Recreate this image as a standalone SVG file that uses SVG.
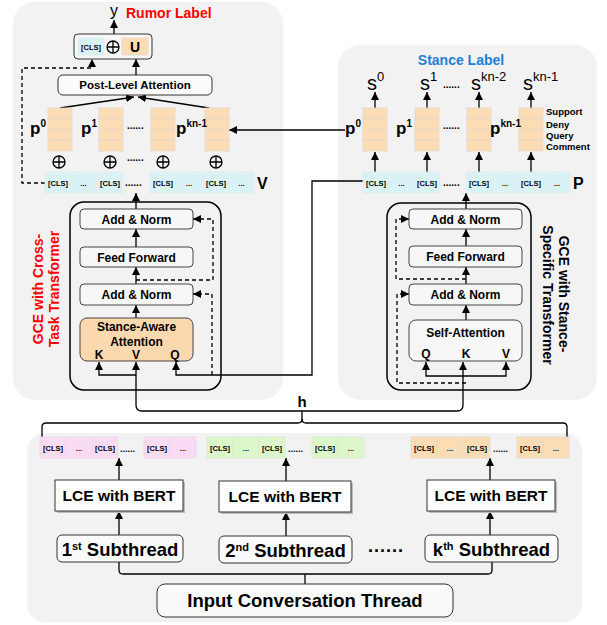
<svg xmlns="http://www.w3.org/2000/svg" xmlns:xlink="http://www.w3.org/1999/xlink" width="607" height="625" viewBox="0 0 607 625">
<style>
.f{font-family:"Liberation Sans",Arial,Helvetica,sans-serif;font-weight:bold;fill:#000}
.n{font-family:"Liberation Sans",Arial,Helvetica,sans-serif;font-weight:normal;fill:#000}
.c{text-anchor:middle}
.cls{font-size:7.5px;text-anchor:middle}
.panel{fill:#f2f2f2}
.ib{fill:#f7f7f7;stroke:#444;stroke-width:1}
.ln{fill:none;stroke:#000;stroke-width:1.3}
.dash{stroke-dasharray:4,3}
.cy{fill:url(#dots);stroke:#e4ecee;stroke-width:0.8}
.or{fill:#fcdcb5;stroke:#e4d6c8;stroke-width:0.8}
.pk{fill:#fadbf6;stroke:#ead8e8;stroke-width:0.8}
.gr{fill:#dcf7c9;stroke:#dbe8d2;stroke-width:0.8}
</style>
<defs>
<marker id="ah" viewBox="0 0 10 10" refX="10" refY="5" markerWidth="8" markerHeight="8" markerUnits="userSpaceOnUse" orient="auto-start-reverse"><path d="M0,0L10,5L0,10z" fill="#000"/></marker>
<pattern id="dots" width="3" height="3" patternUnits="userSpaceOnUse"><rect width="3" height="3" fill="#dcf4f7"/><circle cx="1" cy="1" r="0.5" fill="#bfe4ea"/></pattern>
<g id="col"><rect class="or" x="0" y="0" width="24" height="10.75"/><rect class="or" x="0" y="10.75" width="24" height="10.75"/><rect class="or" x="0" y="21.5" width="24" height="10.75"/><rect class="or" x="0" y="32.25" width="24" height="10.75"/></g>
<g id="oplus"><circle r="6" fill="none" stroke="#000" stroke-width="1.3"/><path d="M-6,0H6M0,-6V6" stroke="#000" stroke-width="1.3"/></g>
</defs>

<!-- panels -->
<rect class="panel" x="13" y="2" width="270" height="398" rx="22"/>
<rect class="panel" x="338" y="45" width="259" height="355" rx="22"/>
<rect class="panel" x="27" y="433" width="555" height="189" rx="18"/>

<!-- connectors -->
<g id="connectors">
<path class="ln" d="M114,34V20" marker-end="url(#ah)"/>
<path class="ln" d="M136,75V59" marker-end="url(#ah)"/>
<path class="ln dash" d="M45,183H22V68H92V59" marker-end="url(#ah)"/>
<path class="ln" d="M60,108L134,97" marker-end="url(#ah)"/>
<path class="ln" d="M209,108L138,97" marker-end="url(#ah)"/>
<path class="ln" d="M345,130H229" marker-end="url(#ah)"/>
<!-- left transformer -->
<path class="ln" d="M136,318V305" marker-end="url(#ah)"/>
<path class="ln" d="M136,284V267" marker-end="url(#ah)"/>
<path class="ln" d="M136,247V229" marker-end="url(#ah)"/>
<path class="ln" d="M136,209V193" marker-end="url(#ah)"/>
<path class="ln dash" d="M136,280H213V219H193" marker-end="url(#ah)"/>
<path class="ln dash" d="M212,375V294H193" marker-end="url(#ah)"/>
<path class="ln" d="M363,181H312V375H176V362" marker-end="url(#ah)"/>
<path class="ln" d="M136,375H99V362" marker-end="url(#ah)"/>
<path class="ln" d="M136,362V405Q136,411 142,411H457Q463,411 463,405V362" marker-start="url(#ah)" marker-end="url(#ah)"/>
<!-- right transformer -->
<path class="ln" d="M466,320V305" marker-end="url(#ah)"/>
<path class="ln" d="M466,284V267" marker-end="url(#ah)"/>
<path class="ln" d="M466,246V229" marker-end="url(#ah)"/>
<path class="ln" d="M466,209V193" marker-end="url(#ah)"/>
<path class="ln dash" d="M466,279H396V219H409" marker-end="url(#ah)"/>
<path class="ln dash" d="M466,383H397V294H409" marker-end="url(#ah)"/>
<path class="ln" d="M426,362V376H506V362" marker-start="url(#ah)" marker-end="url(#ah)"/>
<!-- stance columns -->
<path class="ln" d="M375,172V152" marker-end="url(#ah)"/>
<path class="ln" d="M427,172V152" marker-end="url(#ah)"/>
<path class="ln" d="M479,172V152" marker-end="url(#ah)"/>
<path class="ln" d="M531,172V152" marker-end="url(#ah)"/>
<path class="ln" d="M375,108V92" marker-end="url(#ah)"/>
<path class="ln" d="M427,108V92" marker-end="url(#ah)"/>
<path class="ln" d="M479,108V92" marker-end="url(#ah)"/>
<path class="ln" d="M531,108V92" marker-end="url(#ah)"/>
<!-- bracket h -->
<path class="ln" d="M42,437V427Q42,423 46,423H298Q302,423 302,419V411"/>
<path class="ln" d="M302,419Q302,423 306,423H563Q567,423 567,427V437"/>
<!-- bottom -->
<path class="ln" d="M119,480V458" marker-end="url(#ah)"/>
<path class="ln" d="M286,481V458" marker-end="url(#ah)"/>
<path class="ln" d="M490,480V458" marker-end="url(#ah)"/>
<path class="ln" d="M119,535V511" marker-end="url(#ah)"/>
<path class="ln" d="M286,536V512" marker-end="url(#ah)"/>
<path class="ln" d="M490,535V511" marker-end="url(#ah)"/>
<path class="ln" d="M119,562V570Q119,574 123,574H488Q492,574 492,570V562"/>
<path class="ln" d="M305,574V584"/>
</g>

<!-- top left: rumor -->
<text class="n c" x="114" y="16" font-size="16">y</text>
<text class="f" x="126" y="18" font-size="14" style="fill:#ff0000">Rumor Label</text>
<g id="out-box">
<rect x="74" y="34" width="78" height="25" rx="4" fill="#f7f7f7" stroke="#333" stroke-width="1"/>
<rect class="cy" x="78" y="38" width="26" height="17"/>
<text class="f cls" x="91" y="49.5">[CLS]</text>
<use href="#oplus" x="113" y="47"/>
<rect class="or" x="122" y="38" width="26" height="17"/>
<text class="f c" x="135" y="52" font-size="14">U</text>
</g>
<g id="post-level-attention">
<rect x="58" y="75" width="154" height="20" rx="5" fill="#fbfbfb" stroke="#333" stroke-width="1"/>
<text class="f c" x="135" y="89" font-size="11.5">Post-Level Attention</text>
</g>
<g id="rumor-cols">
<use href="#col" x="48" y="108"/>
<use href="#col" x="99" y="108"/>
<use href="#col" x="151" y="108"/>
<use href="#col" x="205" y="108"/>
<text class="f" x="30" y="134" font-size="17">p<tspan font-size="10" dy="-7">0</tspan></text>
<text class="f" x="81" y="134" font-size="17">p<tspan font-size="10" dy="-7">1</tspan></text>
<text class="f" x="127" y="129" font-size="10">......</text>
<text class="f" x="176" y="134" font-size="17">p<tspan font-size="10" dy="-7">kn-1</tspan></text>
<use href="#oplus" x="59" y="162"/>
<use href="#oplus" x="110" y="162"/>
<use href="#oplus" x="163" y="162"/>
<use href="#oplus" x="216" y="162"/>
<text class="f" x="127" y="161" font-size="10">......</text>
</g>
<g id="v-row">
<rect class="cy" x="45" y="172" width="26" height="21"/>
<rect class="cy" x="71" y="172" width="25" height="21"/>
<rect class="cy" x="97" y="172" width="26" height="21"/>
<rect class="cy" x="150" y="172" width="26" height="21"/>
<rect class="cy" x="176" y="172" width="26" height="21"/>
<rect class="cy" x="203" y="172" width="26" height="21"/>
<rect class="cy" x="229" y="172" width="25" height="21"/>
<text class="f cls" x="58" y="186">[CLS]</text>
<text class="f cls" x="83.5" y="186">...</text>
<text class="f cls" x="110" y="186">[CLS]</text>
<text class="f" x="125" y="186" font-size="10">......</text>
<text class="f cls" x="163" y="186">[CLS]</text>
<text class="f cls" x="189" y="186">...</text>
<text class="f cls" x="216" y="186">[CLS]</text>
<text class="f cls" x="241.5" y="186">...</text>
<text class="f" x="257" y="189" font-size="16">V</text>
</g>

<!-- left transformer -->
<g id="cross-task-transformer">
<rect x="70" y="202" width="151" height="188" rx="14" fill="none" stroke="#000" stroke-width="1.5"/>
<rect class="ib" x="80" y="209" width="113" height="20" rx="4"/>
<text class="f c" x="136.5" y="223.5" font-size="12">Add &amp; Norm</text>
<rect class="ib" x="80" y="247" width="113" height="20" rx="4"/>
<text class="f c" x="136.5" y="261.5" font-size="12">Feed Forward</text>
<rect class="ib" x="80" y="284" width="113" height="21" rx="4"/>
<text class="f c" x="136.5" y="299" font-size="12">Add &amp; Norm</text>
<rect x="80" y="318" width="113" height="43" rx="7" fill="#fcd8ae" stroke="#444" stroke-width="1"/>
<text class="f c" x="136.5" y="331" font-size="12">Stance-Aware</text>
<text class="f c" x="136.5" y="346" font-size="12">Attention</text>
<text class="f c" x="99" y="359" font-size="12">K</text>
<text class="f c" x="136" y="359" font-size="12">V</text>
<text class="f c" x="175" y="359" font-size="12">Q</text>
</g>
<text class="f c" transform="translate(43,289) rotate(-90)" font-size="14" style="fill:#ff0000">GCE with Cross-</text>
<text class="f c" transform="translate(59,289) rotate(-90)" font-size="14" style="fill:#ff0000">Task Transformer</text>

<!-- right: stance -->
<text class="f c" x="461" y="65" font-size="14" style="fill:#1f80d6">Stance Label</text>
<g id="stance-s">
<text class="n" x="367" y="90" font-size="20">s<tspan font-size="13" dy="-9">0</tspan></text>
<text class="n" x="420" y="90" font-size="20">s<tspan font-size="13" dy="-9">1</tspan></text>
<text class="f" x="443" y="88" font-size="10">......</text>
<text class="n" x="471" y="90" font-size="20">s<tspan font-size="13" dy="-9">kn-2</tspan></text>
<text class="n" x="523" y="90" font-size="20">s<tspan font-size="13" dy="-9">kn-1</tspan></text>
</g>
<g id="stance-cols">
<use href="#col" x="363" y="108"/>
<use href="#col" x="415" y="108"/>
<use href="#col" x="467" y="108"/>
<use href="#col" x="519" y="108"/>
<text class="f" x="345" y="134" font-size="17">p<tspan font-size="10" dy="-7">0</tspan></text>
<text class="f" x="396" y="134" font-size="17">p<tspan font-size="10" dy="-7">1</tspan></text>
<text class="f" x="443" y="129" font-size="10">......</text>
<text class="f" x="490" y="134" font-size="17">p<tspan font-size="10" dy="-7">kn-1</tspan></text>
<text class="f" x="546" y="115" font-size="9.5">Support</text>
<text class="f" x="546" y="128" font-size="9.5">Deny</text>
<text class="f" x="546" y="139" font-size="9.5">Query</text>
<text class="f" x="546" y="150" font-size="9.5">Comment</text>
</g>
<g id="p-row">
<rect class="cy" x="363" y="172" width="26" height="21"/>
<rect class="cy" x="389" y="172" width="25" height="21"/>
<rect class="cy" x="414" y="172" width="26" height="21"/>
<rect class="cy" x="466" y="172" width="26" height="21"/>
<rect class="cy" x="492" y="172" width="26" height="21"/>
<rect class="cy" x="518" y="172" width="26" height="21"/>
<rect class="cy" x="544" y="172" width="26" height="21"/>
<text class="f cls" x="376" y="186">[CLS]</text>
<text class="f cls" x="401.5" y="186">...</text>
<text class="f cls" x="427" y="186">[CLS]</text>
<text class="f" x="443" y="186" font-size="10">......</text>
<text class="f cls" x="479" y="186">[CLS]</text>
<text class="f cls" x="505" y="186">...</text>
<text class="f cls" x="531" y="186">[CLS]</text>
<text class="f cls" x="557" y="186">...</text>
<text class="f" x="573" y="189" font-size="16">P</text>
</g>

<g id="stance-specific-transformer">
<rect x="387" y="203" width="144" height="187" rx="14" fill="none" stroke="#000" stroke-width="1.5"/>
<rect class="ib" x="409" y="209" width="113" height="20" rx="4"/>
<text class="f c" x="465.5" y="223.5" font-size="12">Add &amp; Norm</text>
<rect class="ib" x="409" y="246" width="113" height="21" rx="4"/>
<text class="f c" x="465.5" y="261" font-size="12">Feed Forward</text>
<rect class="ib" x="409" y="284" width="113" height="21" rx="4"/>
<text class="f c" x="465.5" y="299" font-size="12">Add &amp; Norm</text>
<rect class="ib" x="409" y="320" width="113" height="41" rx="7"/>
<text class="f c" x="465.5" y="337" font-size="12">Self-Attention</text>
<text class="f c" x="426" y="358" font-size="12">Q</text>
<text class="f c" x="466" y="358" font-size="12">K</text>
<text class="f c" x="506" y="358" font-size="12">V</text>
</g>
<text class="f c" transform="translate(559,294) rotate(90)" font-size="14">GCE with Stance-</text>
<text class="f c" transform="translate(543,295) rotate(90)" font-size="14">Specific Transformer</text>

<text class="f c" x="302" y="407" font-size="15">h</text>

<!-- bottom -->
<g id="cls-rows">
<rect class="pk" x="40" y="437" width="26" height="21"/>
<rect class="pk" x="66" y="437" width="26" height="21"/>
<rect class="pk" x="92" y="437" width="26" height="21"/>
<rect class="pk" x="144" y="437" width="26" height="21"/>
<rect class="pk" x="170" y="437" width="26" height="21"/>
<text class="f cls" x="53" y="451">[CLS]</text>
<text class="f cls" x="79" y="451">...</text>
<text class="f cls" x="105" y="451">[CLS]</text>
<text class="f" x="120" y="452" font-size="9">......</text>
<text class="f cls" x="157" y="451">[CLS]</text>
<text class="f cls" x="183" y="451">...</text>
<rect class="gr" x="207" y="437" width="26" height="21"/>
<rect class="gr" x="233" y="437" width="26" height="21"/>
<rect class="gr" x="259" y="437" width="26" height="21"/>
<rect class="gr" x="312" y="437" width="26" height="21"/>
<rect class="gr" x="338" y="437" width="26" height="21"/>
<text class="f cls" x="220" y="451">[CLS]</text>
<text class="f cls" x="246" y="451">...</text>
<text class="f cls" x="272" y="451">[CLS]</text>
<text class="f" x="288" y="452" font-size="9">......</text>
<text class="f cls" x="325" y="451">[CLS]</text>
<text class="f cls" x="351" y="451">...</text>
<rect class="or" x="411" y="437" width="26" height="21"/>
<rect class="or" x="437" y="437" width="26" height="21"/>
<rect class="or" x="464" y="437" width="26" height="21"/>
<rect class="or" x="517" y="437" width="26" height="21"/>
<rect class="or" x="543" y="437" width="26" height="21"/>
<text class="f cls" x="424" y="451">[CLS]</text>
<text class="f cls" x="450" y="451">...</text>
<text class="f cls" x="477" y="451">[CLS]</text>
<text class="f" x="493" y="452" font-size="9">......</text>
<text class="f cls" x="530" y="451">[CLS]</text>
<text class="f cls" x="556" y="451">...</text>
</g>
<g id="lce1">
<rect x="57" y="482" width="128" height="31" fill="#bbb"/>
<rect x="55" y="480" width="128" height="31" fill="#fff" stroke="#333" stroke-width="1"/>
<text class="f c" x="119" y="501" font-size="15.5">LCE with BERT</text>
</g>
<g id="lce2">
<rect x="221" y="483" width="132" height="31" fill="#bbb"/>
<rect x="219" y="481" width="132" height="31" fill="#fff" stroke="#333" stroke-width="1"/>
<text class="f c" x="285" y="502" font-size="15.5">LCE with BERT</text>
</g>
<g id="lce3">
<rect x="429" y="482" width="128" height="31" fill="#bbb"/>
<rect x="427" y="480" width="128" height="31" fill="#fff" stroke="#333" stroke-width="1"/>
<text class="f c" x="491" y="501" font-size="15.5">LCE with BERT</text>
</g>
<g id="sub1">
<rect x="57" y="535" width="126" height="27" rx="5" fill="#fafafa" stroke="#333" stroke-width="1"/>
<text class="f c" x="120" y="556" font-size="18.5">1<tspan font-size="11" dy="-6">st</tspan><tspan dy="6"> Subthread</tspan></text>
</g>
<g id="sub2">
<rect x="219" y="536" width="133" height="27" rx="5" fill="#fafafa" stroke="#333" stroke-width="1"/>
<text class="f c" x="285.5" y="557" font-size="18.5">2<tspan font-size="11" dy="-6">nd</tspan><tspan dy="6"> Subthread</tspan></text>
</g>
<text class="f" x="368" y="552" font-size="18" letter-spacing="1">......</text>
<g id="sub3">
<rect x="425" y="535" width="133" height="27" rx="5" fill="#fafafa" stroke="#333" stroke-width="1"/>
<text class="f c" x="491.5" y="556" font-size="18.5">k<tspan font-size="11" dy="-6">th</tspan><tspan dy="6"> Subthread</tspan></text>
</g>
<g id="input-thread">
<rect x="157" y="584" width="296" height="33" rx="8" fill="#fafafa" stroke="#333" stroke-width="1"/>
<text class="f c" x="305" y="607" font-size="18.5">Input Conversation Thread</text>
</g>
</svg>
